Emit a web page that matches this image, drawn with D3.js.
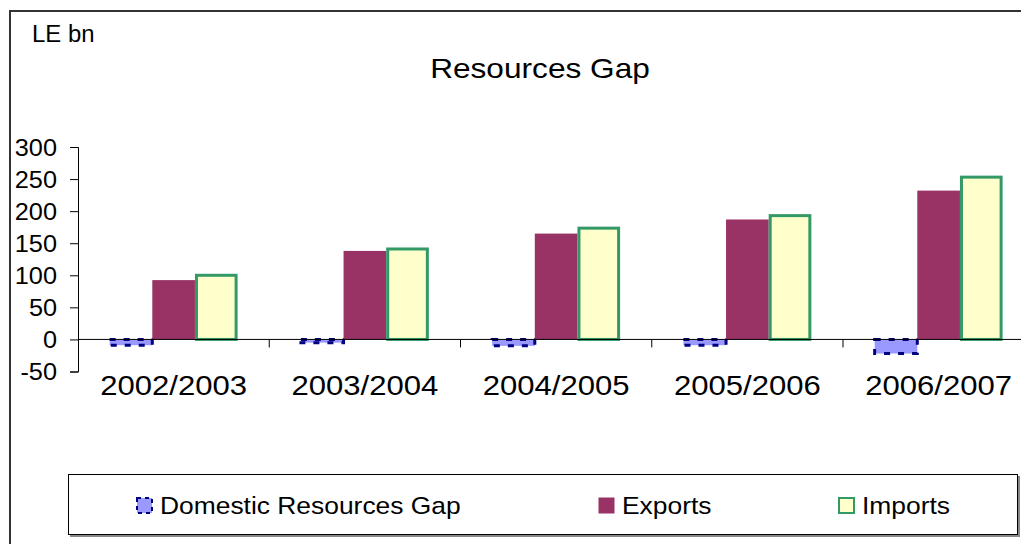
<!DOCTYPE html>
<html>
<head>
<meta charset="utf-8">
<script src="https://cdn.jsdelivr.net/npm/d3@7"></script>
<style>
  html, body { margin: 0; padding: 0; background: #fff; }
  svg { display: block; font-family: Arial, "Liberation Sans", sans-serif; }
</style>
</head>
<body>
<svg id="chart" width="1021" height="544"></svg>
<script>
// Fiscal years shown on the category axis
const years = ["2002/2003", "2003/2004", "2004/2005", "2005/2006", "2006/2007"];
// Series, LE bn
const seriesNames = ["Domestic Resources Gap", "Exports", "Imports"];
const gapValues = [-9, -5, -10, -9, -22];
const exportValues = [92.5, 138, 165, 187, 232];
const importValues = [100, 141, 173.5, 193, 253];
// Value axis ticks
const yTicks = [-50, 0, 50, 100, 150, 200, 250, 300];

const valuesBySeries = [gapValues, exportValues, importValues];
const rows = years.map((yr, i) => ({ year: yr, values: seriesNames.map((s, k) => ({ series: s, value: valuesBySeries[k][i] })) }));

const svg = d3.select("#chart");

// Outer chart frame
svg.append("rect")
  .attr("x", 10).attr("y", 11).attr("width", 1100).attr("height", 600)
  .attr("fill", "none").attr("stroke", "#333").attr("stroke-width", 2);

// Horizontally widened text helper
function wideText(g, x, y, txt, size, sx, anchor) {
  return g.append("text")
    .attr("transform", `translate(${x},${y}) scale(${sx},1)`)
    .attr("text-anchor", anchor)
    .attr("font-size", size)
    .attr("fill", "#000")
    .text(txt);
}

wideText(svg, 32, 41.5, "LE bn", 23, 1.04, "start");
wideText(svg, 540, 77.5, "Resources Gap", 28, 1.13, "middle");

// Plot area scales
const plotLeft = 78, plotRight = 1034.25;
const x = d3.scaleBand().domain(years).range([plotLeft, plotRight])
  .paddingInner(0.331).paddingOuter(0.1655);
const xs = d3.scaleBand().domain(seriesNames).range([0, x.bandwidth()]).padding(0);
const y = d3.scaleLinear().domain([-50, 300]).range([371.5, 147]);

const fills = { "Domestic Resources Gap": "#9999ff", "Exports": "#993366", "Imports": "#ffffcc" };
const strokes = { "Domestic Resources Gap": "#000080", "Exports": "none", "Imports": "#339966" };
const dashes = { "Domestic Resources Gap": "6,8", "Exports": null, "Imports": null };

// Bars
const groups = svg.append("g").selectAll("g").data(rows).join("g")
  .attr("transform", d => `translate(${x(d.year)},0)`);

groups.selectAll("rect").data(d => d.values).join("rect")
  .attr("x", d => xs(d.series) + (d.series === "Imports" ? 1.5 : 0))
  .attr("width", d => xs.bandwidth() - (d.series === "Imports" ? 3 : 0))
  .attr("y", d => y(Math.max(0, d.value)))
  .attr("height", d => Math.abs(y(d.value) - y(0)))
  .attr("fill", d => fills[d.series])
  .attr("stroke", d => strokes[d.series])
  .attr("stroke-width", 3)
  .attr("stroke-dasharray", d => dashes[d.series]);

// Value axis
const yAxis = svg.append("g")
  .attr("transform", `translate(${plotLeft},0)`)
  .call(d3.axisLeft(y).tickValues(yTicks).tickFormat(d => String(d)).tickSize(8).tickSizeOuter(8));
yAxis.select(".domain").attr("stroke", "#000");
yAxis.selectAll(".tick line").attr("stroke", "#000");
yAxis.selectAll(".tick text")
  .attr("x", null).attr("dy", null)
  .attr("transform", "translate(-21,8.3) scale(1.1,1)")
  .attr("font-size", 23).attr("font-family", "Arial, 'Liberation Sans', sans-serif")
  .attr("fill", "#000");

// Category axis along zero
const zeroY = y(0);
svg.append("line")
  .attr("x1", plotLeft).attr("x2", plotRight).attr("y1", zeroY).attr("y2", zeroY)
  .attr("stroke", "#000").attr("stroke-width", 1);
const boundaries = years.map(yr => x(yr) - x.step() * x.paddingOuter() + x.step());
svg.append("g").selectAll("line").data(boundaries).join("line")
  .attr("x1", d => d).attr("x2", d => d)
  .attr("y1", zeroY).attr("y2", zeroY + 8)
  .attr("stroke", "#000");
const catLabels = svg.append("g");
years.forEach(yr => wideText(catLabels, x(yr) + x.bandwidth() / 2, 395, yr, 28, 1.11, "middle"));

// Legend
svg.append("rect").attr("x", 70).attr("y", 476).attr("width", 950).attr("height", 61)
  .attr("fill", "#888");
svg.append("rect").attr("x", 68.5).attr("y", 474.5).attr("width", 949).attr("height", 60)
  .attr("fill", "#fff").attr("stroke", "#000").attr("stroke-width", 1);

const legendPos = [136, 598, 838];
const legend = svg.append("g");
seriesNames.forEach((s, i) => {
  legend.append("rect")
    .attr("x", legendPos[i] + 1).attr("y", 498).attr("width", 15).attr("height", 15)
    .attr("fill", fills[s])
    .attr("stroke", strokes[s] === "none" ? fills[s] : strokes[s])
    .attr("stroke-width", s === "Exports" ? 1 : 2)
    .attr("stroke-dasharray", s === "Domestic Resources Gap" ? "4,4" : null);
  wideText(legend, legendPos[i] + 24, 514, s, 24, 1.1, "start");
});
</script>
</body>
</html>
